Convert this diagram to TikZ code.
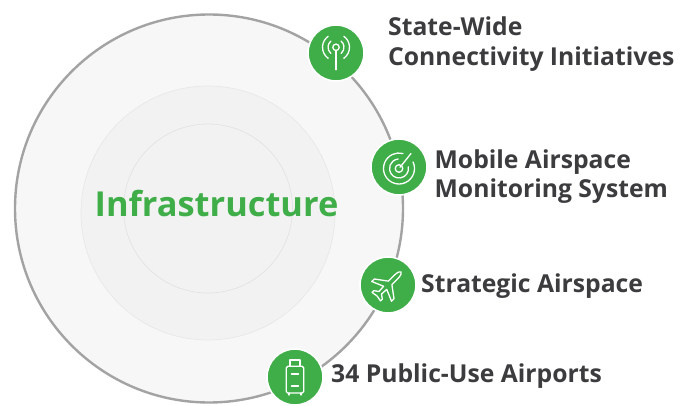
\documentclass[tikz,border=0pt]{standalone}
\usepackage{fontspec}
\setmainfont{Open Sans}
\usetikzlibrary{calc}
\definecolor{grn}{HTML}{3FAE49}
\definecolor{dark}{HTML}{3C3C3E}
\tikzset{
  x=1pt,y=-1pt,
  badge/.style={circle,fill=grn,draw=white,line width=1.6pt,minimum size=56pt,inner sep=0pt},
  lbl/.style={anchor=west,text=dark,font=\fontsize{24.7}{29.8}\selectfont\bfseries,align=left,inner sep=0pt},
  ico/.style={draw=white,line width=1.3pt,line cap=round,line join=round,fill=none},
}
\begin{document}
\begin{tikzpicture}
\useasboundingbox (0,0) rectangle (690,406);
\fill[white] (0,0) rectangle (690,406);
\node[circle,fill=black!3,draw=black!36,line width=2.4pt,minimum size=388pt,inner sep=0pt] (outer) at (209,208.5) {};
\node[circle,fill=black!5,draw=black!9,line width=.7pt,minimum size=254pt,inner sep=0pt] (middle) at (208,213) {};
\node[circle,fill=black!5,draw=black!11,line width=.7pt,minimum size=169pt,inner sep=0pt] (inner) at (208,208.5) {};
\node[text=grn,font=\fontsize{34.4}{40}\selectfont\bfseries,inner sep=0pt] (title) at (216.5,204) {Infrastructure};

\node[badge] (b1) at (336,53) {};
\node[badge] (b2) at (399,167) {};
\node[badge] (b3) at (388,285) {};
\node[badge] (b4) at (295,377) {};

% antenna
\begin{scope}[shift={($(b1.center)+(0,-5.7)$)}]
  \draw[ico] (0,0) circle (3.2);
  \draw[ico] (0,3.2) -- (0,22.5);
  \draw[ico] (130:8) arc (130:230:8);
  \draw[ico] (50:8) arc (50:-50:8);
  \draw[ico] (125:13.5) arc (125:235:13.5);
  \draw[ico] (55:13.5) arc (55:-55:13.5);
\end{scope}
% radar
\begin{scope}[shift={($(b2.center)+(0,1.5)$)}]
  \draw[ico] (0,0) circle (3.8);
  \draw[ico] (1,-1.2) -- (12,-15);
  \draw[ico] (-10:9.5) arc (-10:265:9.5);
  \draw[ico] (-25:15.5) arc (-25:285:15.5);
\end{scope}
% plane
\begin{scope}[shift={(b3.center)},rotate=45]
  \draw[ico] (-11,-1.8) -- (-4,-2.2) -- (-9,-14) -- (-5.5,-14) -- (3,-2.5) -- (11,-2.5)
     .. controls (16,-2.5) and (18.5,-1) .. (18.5,0)
     .. controls (18.5,1) and (16,2.5) .. (11,2.5)
     -- (3,2.5) -- (-5.5,14) -- (-9,14) -- (-4,2.2) -- (-11,1.8) -- (-14,6) -- (-16.5,6) -- (-15.5,0) -- (-16.5,-6) -- (-14,-6) -- cycle;
\end{scope}
% luggage
\begin{scope}[shift={(b4.center)}]
  \draw[ico,rounded corners=1.5pt] (-8.7,-10.7) rectangle (8.7,16);
  \draw[ico] (-5,-10.7) -- (-5,-17) -- (5,-17) -- (5,-10.7);
  \draw[ico] (-3.5,-3) -- (3.5,-3);
  \draw[ico] (-3.5,9) -- (3.5,9);
  \draw[ico] (-6,16) -- (-6,18);
  \draw[ico] (6,16) -- (6,18);
\end{scope}

\node[lbl] (t1) at (388,44) {State-Wide\\Connectivity Initiatives};
\node[lbl] (t2) at (434.5,176.5) {Mobile Airspace\\Monitoring System};
\node[lbl] (t3) at (421,286) {Strategic Airspace};
\node[lbl] (t4) at (331,376.5) {34 Public-Use Airports};
\end{tikzpicture}
\end{document}
